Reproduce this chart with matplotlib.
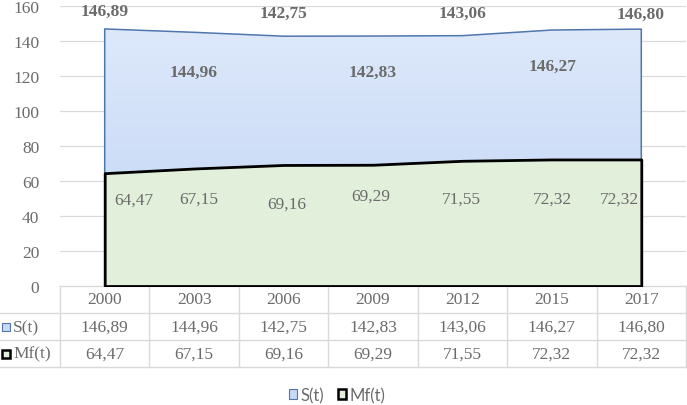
import matplotlib
matplotlib.use("Agg")
import matplotlib.pyplot as plt
import numpy as np
from matplotlib.patches import Rectangle

years = ["2000", "2003", "2006", "2009", "2012", "2015", "2017"]
s_vals = [146.89, 144.96, 142.75, 142.83, 143.06, 146.27, 146.80]
mf_vals = [64.47, 67.15, 69.16, 69.29, 71.55, 72.32, 72.32]
s_labels = ["146,89", "144,96", "142,75", "142,83", "143,06", "146,27", "146,80"]
mf_labels = ["64,47", "67,15", "69,16", "69,29", "71,55", "72,32", "72,32"]
yticks = [0, 20, 40, 60, 80, 100, 120, 140, 160]

# label placement offsets (data units / category units)
s_dy = [10.4, -22.5, 13.4, -20.4, 12.8, -20.4, 8.8]
s_dx = [0.0, -0.01, 0.0, 0.0, 0.0, 0.01, -0.01]
mf_dy = [-14.9, -17.3, -22.2, -17.7, -21.7, -22.4, -22.4]
mf_dx = [0.32, 0.046, 0.03, -0.02, -0.01, 0.005, -0.245]

W, H = 687, 406
fig = plt.figure(figsize=(W / 100, H / 100), dpi=100)
L, R, T, B = 60, 686, 7, 287
ax = fig.add_axes([L / W, 1 - B / H, (R - L) / W, (B - T) / H])
x = np.arange(len(years))
ax.set_xlim(-0.5, len(years) - 0.5)
ax.set_ylim(0, 160)

serif = "Liberation Serif"
gray = "#6b6b6b"
fs = 12.5

for t in yticks[1:]:
    ax.axhline(t, color="#d9d9d9", lw=0.9, zorder=0)

# S(t) area with vertical gradient
poly = ax.fill_between(x, 0, s_vals, facecolor="none", edgecolor="#4f76ad", lw=1.1, zorder=2)
grad = np.linspace(0, 1, 256).reshape(-1, 1)
top_c = np.array([0xde, 0xe9, 0xfb]) / 255
bot_c = np.array([0xbf, 0xd4, 0xf4]) / 255
img = top_c[None, None, :] * (1 - grad[:, :, None]) + bot_c[None, None, :] * grad[:, :, None]
im = ax.imshow(img, extent=[-0.5, len(years) - 0.5, 0, 150], origin="upper",
               aspect="auto", zorder=1.5)
path = poly.get_paths()[0]
im.set_clip_path(path, transform=ax.transData)

# Mf(t) area
ax.fill_between(x, 0, mf_vals, facecolor="#e2efda", edgecolor="black", lw=2.0, zorder=3)

for i in range(len(years)):
    ax.text(x[i] + s_dx[i], s_vals[i] + s_dy[i], s_labels[i], ha="center", va="center",
            family=serif, fontsize=fs, fontweight="bold", color=gray, zorder=5)
    ax.text(x[i] + mf_dx[i], mf_vals[i] + mf_dy[i], mf_labels[i], ha="center", va="center",
            family=serif, fontsize=fs, color=gray, zorder=5)

ax.set_yticks(yticks)
ax.set_yticklabels([str(t) for t in yticks], family=serif, fontsize=fs, color=gray)
ax.tick_params(axis="y", length=0, pad=15)
ax.set_xticks([])
for sp in ax.spines.values():
    sp.set_visible(False)

# data table
row_h = 27 / (B - T)
bt = ax.get_xaxis_transform()
lc = "#d9d9d9"
ax.plot([-0.5, len(years) - 0.5], [0, 0], transform=bt, color=lc, lw=1.0, clip_on=False, zorder=0)
for k in (1, 2, 3):
    ax.plot([-0.5 - 60 / 89.4, len(years) - 0.5], [-k * row_h, -k * row_h], transform=bt,
            color=lc, lw=1.0, clip_on=False)
for k in range(len(years) + 1):
    ax.plot([k - 0.5, k - 0.5], [0, -3 * row_h], transform=bt, color=lc, lw=1.0, clip_on=False)

for i in range(len(years)):
    ax.text(x[i], -0.5 * row_h, years[i], transform=bt, ha="center", va="center",
            family=serif, fontsize=fs, color=gray)
    ax.text(x[i], -1.5 * row_h, s_labels[i], transform=bt, ha="center", va="center",
            family=serif, fontsize=fs, color=gray)
    ax.text(x[i], -2.5 * row_h, mf_labels[i], transform=bt, ha="center", va="center",
            family=serif, fontsize=fs, color=gray)

# row headers with legend keys (figure pixel coordinates)
def px(xp, yp):
    return xp / W, 1 - yp / H

for (name, fc, ec, lw, yc) in [("S(t)", "#c6d9f6", "#4f76ad", 0.8, 328),
                               ("Mf(t)", "#e2efda", "black", 1.8, 354.5)]:
    fig.patches.append(Rectangle(px(2, yc + 4), 8 / W, 8 / H, transform=fig.transFigure,
                                 facecolor=fc, edgecolor=ec, lw=lw))
    fig.text(*px(13, yc), name, ha="left", va="center", family=serif, fontsize=fs, color=gray)

# legend
handles = [Rectangle((0, 0), 1, 1, facecolor="#c6d9f6", edgecolor="#4f76ad", lw=0.8),
           Rectangle((0, 0), 1, 1, facecolor="#e2efda", edgecolor="black", lw=1.8)]
leg = fig.legend(handles, ["S(t)", "Mf(t)"], loc="center", bbox_to_anchor=px(337, 396),
                 ncol=2, frameon=False, prop={"family": "Lato", "size": 12},
                 handlelength=0.5, handleheight=0.5, handletextpad=0.2, columnspacing=0.8,
                 labelcolor=gray, borderpad=0, borderaxespad=0)

fig.savefig("out.png", dpi=100)
